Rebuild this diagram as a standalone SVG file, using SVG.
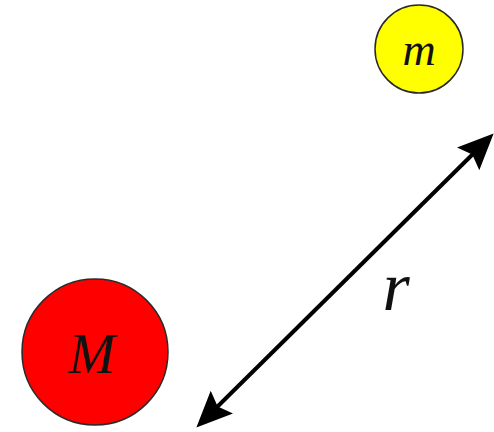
<svg xmlns="http://www.w3.org/2000/svg" width="494" height="432" viewBox="0 0 494 432">
<defs>
<style>
.body{stroke:#2a2a2a;stroke-width:1.5}
.lbl{font-family:"Liberation Serif","Times New Roman",serif;font-style:italic;fill:#111;text-anchor:middle}
.conn{stroke:#000;stroke-width:4;fill:none}
</style>
<marker id="ah" markerUnits="userSpaceOnUse" viewBox="0 0 36 32" refX="14" refY="16" markerWidth="36" markerHeight="32" orient="auto-start-reverse">
<path d="M0,0 L36,16 L0,32 L6,16 z" fill="#000"/>
</marker>
</defs>
<rect width="494" height="432" fill="#fff"/>
<g id="node-m">
<circle class="body" cx="419" cy="49" r="44" fill="#ffff00"/>
<text class="lbl" x="419" y="65" font-size="46">m</text>
</g>
<g id="node-M">
<circle class="body" cx="95" cy="352" r="73" fill="#ff0000"/>
<text class="lbl" x="92" y="373" font-size="56">M</text>
</g>
<g id="connectors">
<line class="conn" x1="212" y1="412" x2="478" y2="149" marker-start="url(#ah)" marker-end="url(#ah)"/>
</g>
<text class="lbl" x="396" y="310" font-size="70">r</text>
</svg>
